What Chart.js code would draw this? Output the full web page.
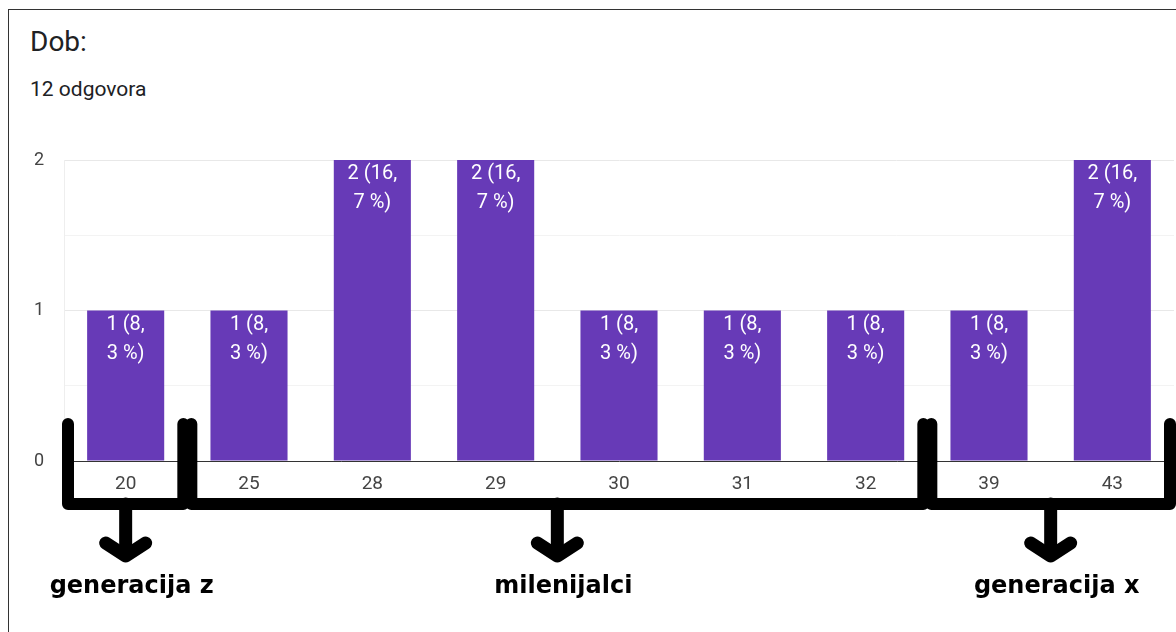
<!DOCTYPE html>
<html>
<head>
<meta charset="utf-8">
<script src="https://cdn.jsdelivr.net/npm/chart.js@4"></script>
<style>
  body { margin: 0; background: #fff; overflow: hidden; }
  .card { position: absolute; left: 8px; top: 9px; width: 1200px; height: 660px; border: 1px solid #333; box-sizing: border-box; }
  .title { position: absolute; left: 30px; top: 28px; font: 28px/28px Roboto, sans-serif; color: #202124; margin: 0; }
  .sub { position: absolute; left: 30px; top: 79px; font: 21px/21px Roboto, sans-serif; color: #202124; margin: 0; }
  #chart { position: absolute; left: 0; top: 0; }
</style>
</head>
<body>
<div class="card"></div>
<div class="title">Dob:</div>
<div class="sub">12 odgovora</div>
<canvas id="chart" width="1176" height="632"></canvas>
<script>
// --- data ---
const categories = ['20', '25', '28', '29', '30', '31', '32', '39', '43'];
const counts = [1, 1, 2, 2, 1, 1, 1, 1, 2];
const totalResponses = 12;
const yTicks = [0, 1, 2];

// hand drawn groupings under the axis
const groupNames = ['generacija z', 'milenijalci', 'generacija x'];
const groupFirst = [0, 1, 7];
const groupLast = [0, 6, 8];

const PURPLE = '#673ab7';

// "1 (8,3 %)" wrapped in two lines like google forms does
function barLabel(v) {
  const pct = (v / totalResponses * 100).toFixed(1).replace('.', ',');
  const parts = pct.split(',');
  return [v + ' (' + parts[0] + ',', parts[1] + ' %)'];
}

const barLabels = {
  id: 'barLabels',
  afterDatasetsDraw(chart) {
    const ctx = chart.ctx;
    const meta = chart.getDatasetMeta(0);
    ctx.save();
    ctx.font = '20px Roboto, sans-serif';
    ctx.fillStyle = '#fff';
    ctx.textAlign = 'center';
    ctx.textBaseline = 'middle';
    meta.data.forEach((bar, i) => {
      const lines = barLabel(counts[i]);
      ctx.fillText(lines[0], bar.x, bar.y + 14);
      ctx.fillText(lines[1], bar.x, bar.y + 43);
    });
    ctx.restore();
  }
};

// brackets + arrows + group names
const brackets = {
  id: 'brackets',
  afterDraw(chart) {
    const ctx = chart.ctx;
    const x = chart.scales.x;
    const half = (x.getPixelForValue(1) - x.getPixelForValue(0)) / 2;
    ctx.save();
    ctx.strokeStyle = '#000';
    ctx.fillStyle = '#000';
    ctx.lineCap = 'round';
    ctx.lineJoin = 'round';
    groupNames.forEach((name, g) => {
      const left = x.getPixelForValue(groupFirst[g]) - half + 4;
      const right = x.getPixelForValue(groupLast[g]) + half - 4;
      const mid = (left + right) / 2;
      ctx.lineWidth = 12;
      ctx.beginPath();
      ctx.moveTo(left, 424);
      ctx.lineTo(left, 504);
      ctx.lineTo(right, 504);
      ctx.lineTo(right, 424);
      ctx.stroke();

      ctx.lineWidth = 13;
      ctx.beginPath();
      ctx.moveTo(mid, 504);
      ctx.lineTo(mid, 554);
      ctx.stroke();
      ctx.beginPath();
      ctx.moveTo(mid - 20, 543);
      ctx.lineTo(mid, 556);
      ctx.lineTo(mid + 20, 543);
      ctx.stroke();

      ctx.font = 'bold 24px "DejaVu Sans", sans-serif';
      ctx.textAlign = 'center';
      ctx.textBaseline = 'alphabetic';
      ctx.fillText(name, mid + 6, 593);
    });
    ctx.restore();
  }
};

new Chart(document.getElementById('chart'), {
  type: 'bar',
  data: {
    labels: categories,
    datasets: [{
      data: counts,
      backgroundColor: PURPLE,
      categoryPercentage: 1,
      barPercentage: 0.625
    }]
  },
  options: {
    responsive: false,
    animation: false,
    devicePixelRatio: 1,
    layout: { padding: { top: 160, right: 2, bottom: 127, left: 0 } },
    plugins: { legend: { display: false }, tooltip: { enabled: false } },
    scales: {
      x: {
        grid: { display: false, drawTicks: false },
        border: { display: true, color: '#333', width: 1 },
        ticks: { color: '#444', font: { family: 'Roboto', size: 19 }, padding: 12, maxRotation: 0 },
        afterFit: s => { s.height = 44; }
      },
      y: {
        min: 0,
        max: 2,
        grid: {
          drawTicks: false,
          color: c => (c.tick && yTicks.includes(c.tick.value)) ? '#e8e8e8' : '#f3f3f3'
        },
        border: { display: true, color: '#eeeeee' },
        ticks: {
          stepSize: 0.5,
          padding: 20,
          color: '#444',
          font: { family: 'Roboto', size: 18 },
          callback: v => yTicks.includes(v) ? String(v) : ''
        },
        afterFit: s => { s.width = 64; }
      }
    }
  },
  plugins: [barLabels, brackets]
});
</script>
</body>
</html>
